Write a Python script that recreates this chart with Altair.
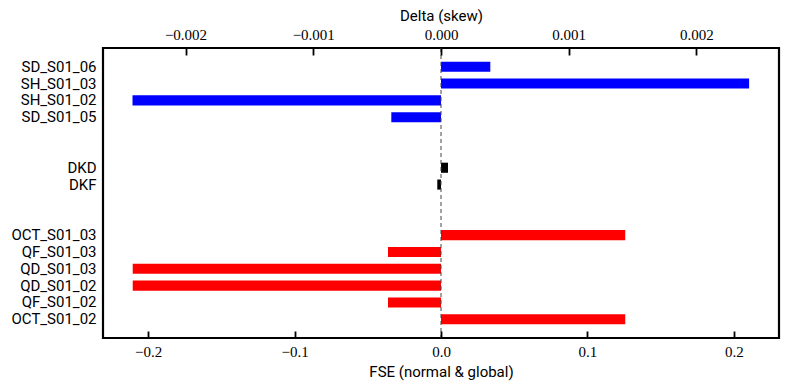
import altair as alt
import pandas as pd

# rows (top to bottom); gap rows are blank spacer rows
names = ["SD_S01_06", "SH_S01_03", "SH_S01_02", "SD_S01_05", "gap1", "gap2",
         "DKD", "DKF", "gap3", "gap4",
         "OCT_S01_03", "QF_S01_03", "QD_S01_03", "QD_S01_02", "QF_S01_02", "OCT_S01_02"]

# skew elements, plotted against the top axis "Delta (skew)"
skew_names = ["SD_S01_06", "SH_S01_03", "SH_S01_02", "SD_S01_05", "DKD", "DKF"]
skew_vals = [0.000386, 0.002412, -0.002415, -0.000389, 0.000055, -0.000029]
skew_group = ["sext", "sext", "sext", "sext", "kick", "kick"]

# normal elements, plotted against the bottom axis "FSE (normal & global)"
fse_names = ["OCT_S01_03", "QF_S01_03", "QD_S01_03", "QD_S01_02", "QF_S01_02", "OCT_S01_02"]
fse_vals = [0.1258, -0.0362, -0.2105, -0.2105, -0.0362, 0.1258]

bottom_ticks = [-0.2, -0.1, 0.0, 0.1, 0.2]
top_ticks = [-0.002, -0.001, 0.0, 0.001, 0.002]

W, H = 676, 290
bot_dom = [-0.2308, 0.2308]
top_dom = [-0.002646, 0.002646]

skew_df = pd.DataFrame({"name": skew_names, "delta": skew_vals, "group": skew_group})
fse_df = pd.DataFrame({"name": fse_names, "fse": fse_vals, "group": ["quad"] * len(fse_names)})

num_font = "Liberation Serif"
sans_font = "Roboto"
TICK = 7

yenc = alt.Y("name:N", sort=names,
             scale=alt.Scale(domain=names, paddingInner=0.4, paddingOuter=0.81),
             axis=alt.Axis(title=None, ticks=False, domain=False,
                           labelExpr="indexof(datum.label, 'gap') == 0 ? '' : datum.label",
                           labelFont=sans_font, labelFontSize=15, labelColor="black",
                           labelPadding=7))

color = alt.Color("group:N", scale=alt.Scale(domain=["sext", "kick", "quad"],
                                               range=["#0000ff", "#000000", "#ff0000"]),
                  legend=None)

bot_scale = alt.Scale(domain=bot_dom, nice=False, zero=False)
top_scale = alt.Scale(domain=top_dom, nice=False, zero=False)

# axes are pulled inside the frame by the tick length, so the ticks point inward
fse_bars = alt.Chart(fse_df).mark_bar(cornerRadius=0).encode(
    x=alt.X("fse:Q", scale=bot_scale,
            axis=alt.Axis(orient="bottom", title="FSE (normal & global)", values=bottom_ticks,
                          format=".1f", ticks=True, tickSize=TICK, tickWidth=1.8,
                          tickColor="#000000", tickOpacity=1, offset=-TICK, zindex=1,
                          domain=False, grid=False,
                          labelFont=num_font, labelFontSize=15, labelColor="black",
                          labelPadding=6, titleFont=sans_font, titleFontSize=15,
                          titleFontWeight="normal", titleColor="black", titlePadding=5)),
    x2=alt.datum(0),
    y=yenc,
    color=color,
)

skew_bars = alt.Chart(skew_df).mark_bar(cornerRadius=0).encode(
    x=alt.X("delta:Q", scale=top_scale,
            axis=alt.Axis(orient="top", title="Delta (skew)", values=top_ticks,
                          format=".3f", ticks=True, tickSize=TICK, tickWidth=1.8,
                          tickColor="#000000", tickOpacity=1, offset=-TICK, zindex=1,
                          domain=False, grid=False,
                          labelFont=num_font, labelFontSize=15, labelColor="black",
                          labelPadding=6, titleFont=sans_font, titleFontSize=15,
                          titleFontWeight="normal", titleColor="black", titlePadding=4)),
    x2=alt.datum(0),
    y=yenc,
    color=color,
)

# dashed zero line
zero_line = alt.Chart(pd.DataFrame({"z": [0.0]})).mark_rule(
    color="#444444", strokeDash=[4, 3], strokeWidth=1).encode(
    x=alt.X("z:Q", scale=bot_scale, axis=None))

chart = alt.layer(fse_bars, skew_bars, zero_line).resolve_scale(
    x="independent").properties(
    width=W, height=H,
    autosize=alt.AutoSizeParams(type="none"),
    padding={"left": 95, "top": 40, "right": 3, "bottom": 50},
).configure(background="white").configure_view(
    stroke="black", strokeWidth=2.2, fill="transparent"
).configure_axis(ticks=True, tickColor="#000000")

chart.save("out.html", embed_options={"renderer": "svg", "actions": False})
